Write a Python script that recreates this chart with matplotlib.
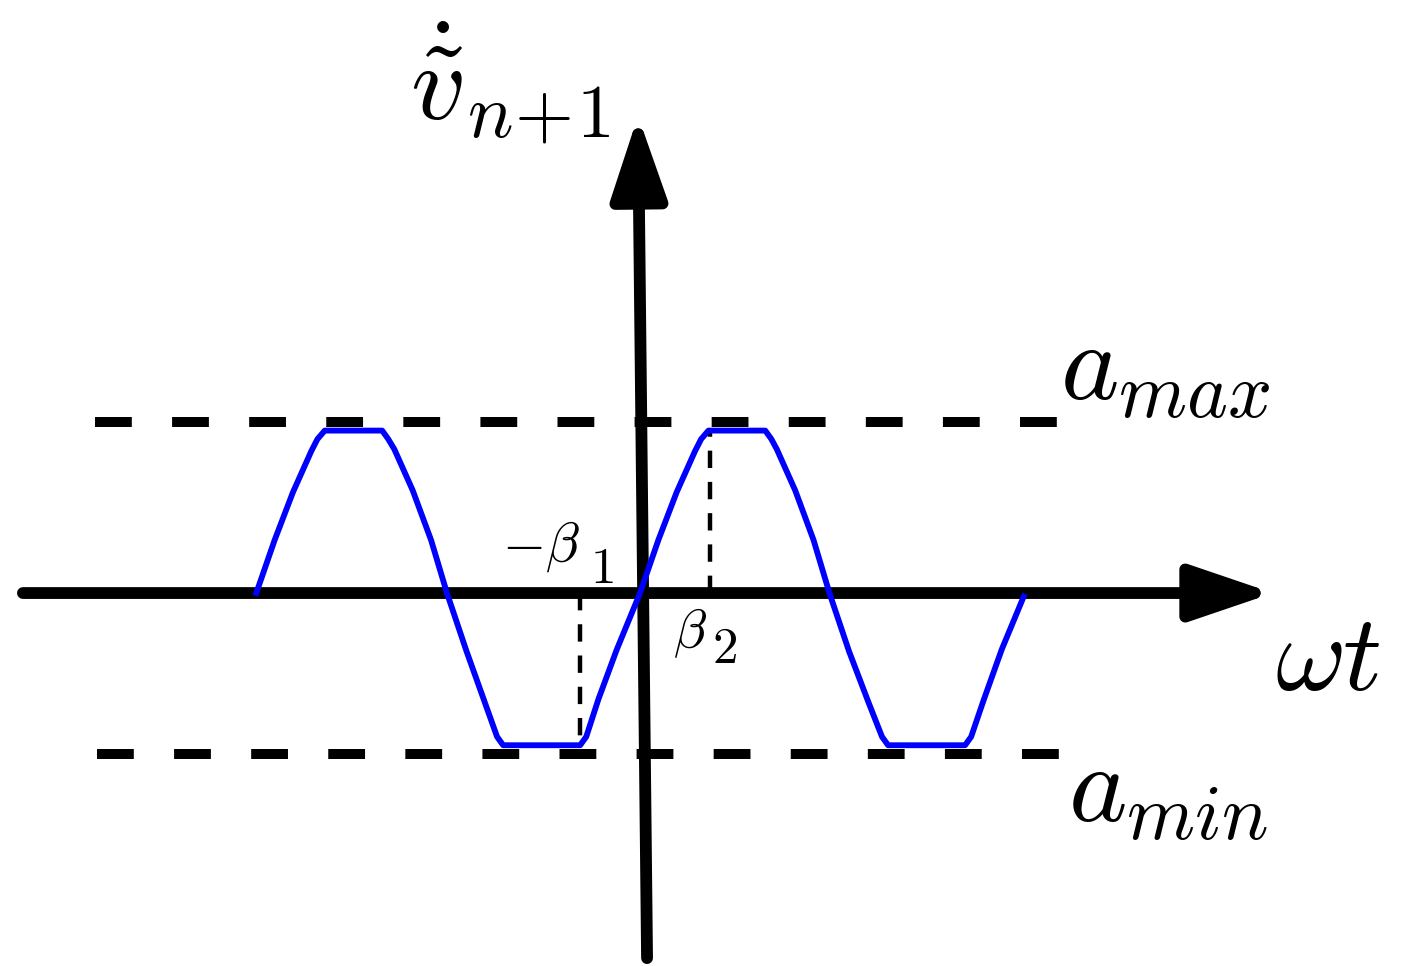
import matplotlib
matplotlib.use("Agg")
import matplotlib.pyplot as plt

plt.rcParams['mathtext.fontset'] = 'cm'
plt.rcParams['lines.scale_dashes'] = False

# saturated response: omega*t in rad, value in units of a_max
wt = [-6.28, -5.98, -5.68, -5.48, -5.38, -5.28, -5.16, -4.22, -4.12, -4.02, -3.92, -3.72, -3.42, -3.16,
      -2.84, -2.54, -2.34, -2.24, -0.98, -0.88, -0.68, -0.38, 0.00,
      0.30, 0.60, 0.80, 0.90, 1.00, 1.12, 2.05, 2.15, 2.24, 2.34, 2.54, 2.84, 3.10,
      3.42, 3.74, 3.96, 4.06, 5.32, 5.42, 5.62, 5.92, 6.28]
v_dot = [0.00, 0.31, 0.59, 0.75, 0.83, 0.90, 0.95, 0.95, 0.90, 0.84, 0.76, 0.60, 0.31, 0.00,
         -0.34, -0.64, -0.84, -0.89, -0.89, -0.84, -0.62, -0.33, 0.00,
         0.31, 0.59, 0.75, 0.83, 0.90, 0.95, 0.95, 0.90, 0.84, 0.76, 0.60, 0.31, 0.00,
         -0.34, -0.64, -0.84, -0.89, -0.89, -0.84, -0.63, -0.33, -0.02]

a_max = 1.0
a_min = -0.94
level_span = [-8.92, 6.87]
beta_1 = 0.98
beta_2 = 1.15
sat_hi = 0.95
sat_lo = -0.89

fig = plt.figure(figsize=(14.05, 9.66), dpi=100)
ax = fig.add_axes([0, 0, 1, 1])
ax.set_xlim(-10.475, 12.52)
ax.set_ylim(-2.181, 3.468)
ax.axis('off')

# axes arrows
arrow = dict(arrowstyle='-|>,head_length=0.5,head_width=0.17', mutation_scale=100,
             lw=8.5, color='k', shrinkA=0, shrinkB=0)
ax.annotate('', xy=(10.36, 0), xytext=(-10.1, 0), arrowprops=arrow, zorder=2)
ax.annotate('', xy=(-0.033, 2.79), xytext=(0.115, -2.135), arrowprops=arrow, zorder=2)

# saturation levels
ax.plot(level_span, [a_max, a_max], color='k', lw=7.2, ls=(0, (26.5, 29)), zorder=1)
ax.plot([-8.89, 6.87], [a_min, a_min], color='k', lw=7.2, ls=(0, (26.5, 29)), zorder=1)

# switching angles
ax.plot([-beta_1, -beta_1], [0, sat_lo], color='k', lw=3.2, ls=(0, (12.5, 10)), zorder=1)
ax.plot([beta_2, beta_2], [0, sat_hi], color='k', lw=3.2, ls=(0, (12.5, 10)), zorder=1)

ax.plot(wt, v_dot, color='#0000ff', lw=4.2, solid_joinstyle='round', zorder=3)

ax.text(-3.764, 2.766, r'$\dot{\tilde{v}}_{n\!+\!1}$', fontsize=78, ha='left', va='baseline')
ax.text(6.874, 1.129, r'$a_{max}$', fontsize=80, ha='left', va='baseline')
ax.text(7.005, -1.339, r'$a_{min}$', fontsize=80, ha='left', va='baseline')
ax.text(10.393, -0.567, r'$\omega t$', fontsize=78, ha='left', va='baseline')
ax.text(-2.26, 0.181, r'$-\beta$', fontsize=40, ha='left', va='baseline')
ax.text(-0.818, 0.058, r'$1$', fontsize=37, ha='left', va='baseline')
ax.text(0.54, -0.322, r'$\beta$', fontsize=39, ha='left', va='baseline')
ax.text(1.178, -0.409, r'$2$', fontsize=37, ha='left', va='baseline')

fig.savefig('out.png', dpi=100)
